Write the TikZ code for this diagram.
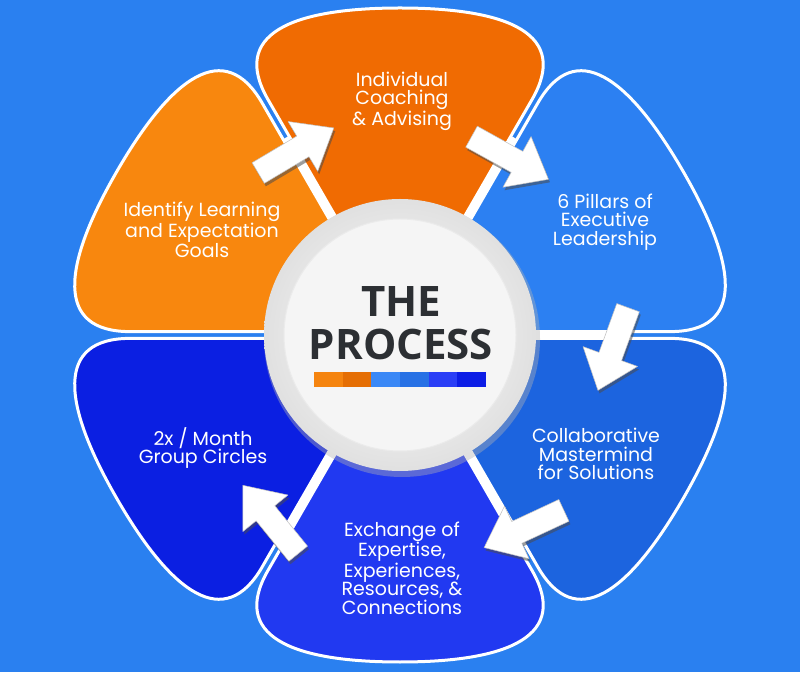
\documentclass[tikz,border=0pt]{standalone}
\usepackage{fontspec}
\usepackage{tikz}
\usetikzlibrary{calc}
\newfontfamily\petalfont{Poppins}
\newfontfamily\titlefont{Open Sans}
\definecolor{bgblue}{HTML}{2A80F0}
\definecolor{orangetop}{HTML}{F06B02}
\definecolor{orangeleft}{HTML}{F8870E}
\definecolor{bluetop}{HTML}{2C80F2}
\definecolor{bluemid}{HTML}{1C64DF}
\definecolor{bluelow}{HTML}{2139F1}
\definecolor{bluedeep}{HTML}{0B1FE2}
\definecolor{titlegray}{HTML}{2C2F33}
\definecolor{barA}{HTML}{F5840F}
\definecolor{barB}{HTML}{E56E04}
\definecolor{barC}{HTML}{3A88F6}
\definecolor{barD}{HTML}{2771E5}
\definecolor{barE}{HTML}{2A3EF6}
\definecolor{barF}{HTML}{0C1DE6}
\def\petal[#1](#2){\draw[petal, fill=#1, shift={(400,337)}, rotate=#2] (47,88.2) -- (132,235.4) .. controls (169.5,300.3) and (110,327) .. (0,327) .. controls (-110,327) and (-169.5,300.3) .. (-132,235.4) -- (-47,88.2) -- cycle;}
\def\procarrow(#1,#2)[#3]{%
  \fill[arrowshadow, shift={(#1+1.5,#2-3)}, rotate=#3] (-44,-12) -- (8,-12) -- (8,-29) -- (44,0) -- (8,29) -- (8,12) -- (-44,12) -- cycle;
  \draw[arrowbody, shift={(#1,#2)}, rotate=#3] (-44,-12) -- (8,-12) -- (8,-29) -- (44,0) -- (8,29) -- (8,12) -- (-44,12) -- cycle;}

\begin{document}
\begin{tikzpicture}[x=1pt, y=1pt,
    petal/.style={draw=white, line width=3pt, line join=round},
    spoke/.style={white, line width=10pt},
    arrowbody/.style={fill=white, draw=black!25, line width=0.5pt, line join=round},
    arrowshadow/.style={fill=black!70, opacity=0.55},
    petaltext/.style={text=white, font=\petalfont\fontsize{19}{18.5}\selectfont, align=center},
    titletext/.style={text=titlegray, font=\titlefont\bfseries\fontsize{42}{42}\selectfont, anchor=base}]
		%%%%% START %%%%%
		
		\fill[bgblue] (0,0) rectangle (800,672);
		\useasboundingbox (0,0) rectangle (800,672);
		
		\foreach \a in {0,60,120,240,300}
			\draw[spoke] (400,337) -- ++(\a:228);
		
		\petal[orangetop](0)
		\petal[orangeleft](60)
		\petal[bluetop](-60)
		\petal[bluemid](-120)
		\petal[bluelow](180)
		\petal[bluedeep](120)
		
		\procarrow(296,521.5)[30.8]
		\procarrow(510,514)[-29]
		\procarrow(613,323)[-110]
		\procarrow(524,143)[-155]
		\procarrow(270.5,152.5)[129]
		
		\fill[black!30, opacity=0.4] (402,333) circle (138);
		\shade[inner color=white, outer color=black!12] (400,337) circle (136);
		\draw[black!8, line width=1pt, fill=black!4] (400,337) circle (116);
		
		\node[titletext] (the) at (401,355) {THE};
		\node[titletext] (process) at (401,312) {PROCESS};
		\foreach \c [count=\i from 0] in {barA,barB,barC,barD,barE,barF}
			\fill[\c] (314+\i*28.67,285) rectangle ++(28.67,15);
		
		\node[petaltext] (coach) at (402,571) {Individual\\Coaching\\\& Advising};
		\node[petaltext] (pillars) at (605,450) {6 Pillars of\\Executive\\Leadership};
		\node[petaltext] (master) at (596,218) {Collaborative\\Mastermind\\for Solutions};
		\node[petaltext] (exchange) at (402,104) {Exchange of\\Expertise,\\Experiences,\\Resources, \&\\Connections};
		\node[petaltext] (circles) at (203,224) {2x / Month\\Group Circles};
		\node[petaltext] (goals) at (202,442) {Identify Learning\\and Expectation\\Goals};
		
		%%%%% END %%%%%
	\end{tikzpicture}
\end{document}
